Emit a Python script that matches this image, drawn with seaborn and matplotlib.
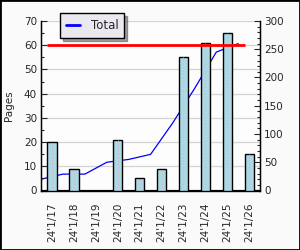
import numpy as np
import pandas as pd
import matplotlib
matplotlib.use("Agg")
import matplotlib.pyplot as plt
import seaborn as sns
from matplotlib.ticker import MultipleLocator
from matplotlib.lines import Line2D

# data
days = ["24'1/17", "24'1/18", "24'1/19", "24'1/20", "24'1/21",
        "24'1/22", "24'1/23", "24'1/24", "24'1/25", "24'1/26"]
pages = [20, 9, 0, 21, 5, 9, 55, 61, 65, 15]
target = 60
total = np.cumsum(pages)

sns.set_style("white")
plt.rcParams['font.family'] = ['DejaVu Sans']

fig = plt.figure(figsize=(3, 2.5), dpi=100, facecolor="#fafafa")
ax = fig.add_axes([0.137, 0.238, 0.73, 0.678])

df = pd.DataFrame({"day": days, "pages": pages})
sns.barplot(data=df, x="day", y="pages", ax=ax, color="#add8e6",
            edgecolor="black", linewidth=1, width=0.42, saturation=1, zorder=3)
# dotted centre marks inside the bars
ax.vlines(np.arange(len(days)), 0, pages, colors="#e0b0b0",
          linestyles=(0, (1, 2)), linewidth=0.8, zorder=4)

ax.set_xlim(-0.5, 9.5)
ax.set_ylim(0, 70)
ax.yaxis.set_major_locator(MultipleLocator(10))
ax.yaxis.set_minor_locator(MultipleLocator(5))
ax.set_xlabel("")
ax.set_ylabel("Pages", fontsize=7.5, labelpad=7)
ax.set_xticks(np.arange(len(days)))
ax.set_xticklabels(days, rotation=90, fontsize=7.5)
ax.tick_params(axis="x", length=0, pad=9)
ax.tick_params(axis="y", which="major", direction="in", length=4,
               width=0.8, labelsize=7.5, pad=3)
ax.tick_params(axis="y", which="minor", direction="in", length=2, width=0.8)
# bottom ticks at slot boundaries, pointing inward
ax.set_xticks(np.arange(len(days)) - 0.5, minor=True)
ax.tick_params(axis="x", which="minor", direction="in", length=4, width=0.8)

for s in ["left", "bottom", "right"]:
    ax.spines[s].set_color("black")
    ax.spines[s].set_linewidth(1)
ax.spines["top"].set_visible(False)

ax.hlines(target, -0.25, 8.82, colors="red", linewidth=2, zorder=5)

# cumulative line on the right axis, drawn behind the bars
ax2 = ax.twinx()
ax2.set_zorder(ax.get_zorder() - 1)
ax2.patch.set_visible(True)
ax2.patch.set_facecolor("#fdfdfd")
ax.patch.set_visible(False)
# horizontal grid for the left scale, drawn on the back axes
for v in ax.get_yticks()[1:]:
    ax2.axhline(v * 300 / 70, color="#d4d4d4", linewidth=0.9, zorder=0)
sns.lineplot(x=np.arange(len(days)) - 0.5, y=total, ax=ax2, color="blue",
             linewidth=0.9, zorder=2)
ax2.set_ylim(0, 300)
ax2.yaxis.set_major_locator(MultipleLocator(50))
ax2.yaxis.set_minor_locator(MultipleLocator(10))
ax2.tick_params(axis="y", which="major", direction="in", length=4,
                width=0.8, labelsize=7.5, pad=3)
ax2.tick_params(axis="y", which="minor", direction="in", length=2, width=0.8)
for s in ["left", "bottom", "right"]:
    ax2.spines[s].set_color("black")
ax2.spines["top"].set_visible(False)
ax2.set_ylabel("")

# legend box with shadow
leg = fig.legend(handles=[Line2D([], [], color="blue", linewidth=2)],
                 labels=["Total"], loc="upper left",
                 bbox_to_anchor=(60 / 300, 1 - 13 / 250), borderaxespad=0,
                 fontsize=8.5, frameon=True, fancybox=False, shadow=True,
                 handlelength=1.2, borderpad=0.5, handletextpad=0.9)
leg.get_frame().set_facecolor("#ebe9ef")
leg.get_frame().set_edgecolor("black")
leg.get_frame().set_linewidth(1)

# figure border
fig.patches.append(plt.Rectangle((0, 0), 1, 1, transform=fig.transFigure,
                                 fill=False, edgecolor="black", linewidth=2))

fig.savefig("out.png", dpi=100, facecolor=fig.get_facecolor())
